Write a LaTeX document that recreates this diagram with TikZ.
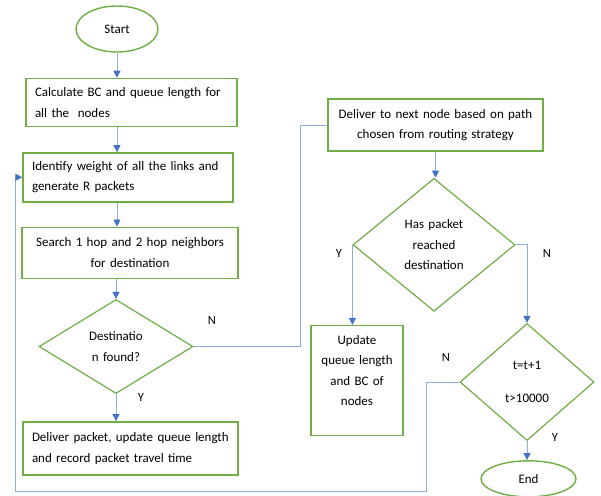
\documentclass[tikz,border=0pt]{standalone}
\usepackage{fontspec}
\setmainfont{Carlito}
\usetikzlibrary{shapes.geometric, arrows.meta, positioning}
\definecolor{boxgreen}{HTML}{70AD47}
\definecolor{lineblue}{HTML}{8FAADC}
\definecolor{tipblue}{HTML}{4472C4}
\tikzset{
    terminal/.style = {
        ellipse,
        draw=boxgreen,
        line width=1.4pt,
        inner sep=0pt
    },
    block/.style = {
        rectangle,
        draw=boxgreen,
        line width=1.4pt,
        inner sep=0pt,
        inner xsep=9pt
    },
    decision/.style = {
        diamond,
        draw=boxgreen,
        line width=1.2pt,
        align=center,
        inner sep=0pt
    },
    flow/.style = {
        draw=lineblue,
        line width=0.9pt
    },
    arr/.style = {
        flow,
        -{Triangle[length=7pt, width=7pt, color=tipblue]}
    },
    lbl/.style = {
        font=\fontsize{12.5}{14}\selectfont
    }
}

\begin{document}
\begin{tikzpicture}[
    x=1pt, y=-1pt,
    every node/.style={font=\fontsize{13}{20.5}\selectfont}
]
\useasboundingbox (0,0) rectangle (601,495);

% Left column
\node [terminal, minimum width=82pt, minimum height=46pt] (start) at (117,29) {Start};
\node [block, below=25pt of start, xshift=14.5pt, minimum width=211pt, minimum height=48pt,
       text width=193pt, align=left] (calc) {Calculate BC and queue length for\\ all the\ \ nodes};
\node [block, below=25pt of calc, xshift=-3.5pt, minimum width=210pt, minimum height=49pt,
       text width=192pt, align=left] (ident) {Identify weight of all the links and\\ generate R packets};
\node [block, below=24pt of ident, xshift=2pt, minimum width=216pt, minimum height=51pt,
       text width=198pt, align=center] (search) {Search 1 hop and 2 hop neighbors\\ for destination};
\node [decision, below=20pt of search, xshift=-14pt, minimum width=154pt, minimum height=94pt,
       text width=60pt] (found) {Destinatio\\ n found?};
\node [block, below=27pt of found, xshift=14.5pt, minimum width=215pt, minimum height=53pt,
       text width=197pt, align=left] (deliver) {Deliver packet, update queue length\\ and record packet travel time};

% Right column
\node [block, minimum width=215pt, minimum height=52pt, text width=197pt, align=center]
      (next) at (435.5,125) {Deliver to next node based on path\\ chosen from routing strategy};
\node [decision, below=26pt of next, xshift=-1.5pt, minimum width=162pt, minimum height=133pt,
       text width=70pt] (reached) {Has packet\\ reached\\ destination};
\node [block, below=13pt of reached, xshift=-77pt, minimum width=92pt, minimum height=110pt,
       text width=80pt, inner xsep=6pt, align=center] (update) {Update\\ queue length\\ and BC of\\ nodes\\ \mbox{}};
\node [decision, below=11pt of reached, xshift=93pt, minimum width=134pt, minimum height=117pt,
       text width=60pt] (tick) {t=t+1\\[13pt] t>10000};
\node [terminal, below=19pt of tick, xshift=1.5pt, minimum width=95pt, minimum height=36pt] (finish) {End};

% Branch labels
\node [lbl] (foundN) at (212,320) {N};
\node [lbl] (foundY) at (141,397) {Y};
\node [lbl] (reachedY) at (339,253) {Y};
\node [lbl] (reachedN) at (547,253) {N};
\node [lbl] (tickN) at (446,357) {N};
\node [lbl] (tickY) at (555,437) {Y};

% Connectors
\draw [arr] (start.south) -- (start.south |- calc.north);
\draw [arr] (calc.south -| start) -- (ident.north -| start);
\draw [arr] (ident.south -| start) -- (search.north -| start);
\draw [arr] (search.south -| found) -- (found.north);
\draw [arr] (found.south) -- (found.south |- deliver.north);
\draw [flow] (found.east) -- ++(107,0) |- (next.west);
\draw [arr] (next.south) -- (next.south |- reached.north);
\draw [arr] (reached.west) -- (reached.west |- update.north);
\draw [arr] (reached.east) -| (tick.north);
\draw [arr] (tick.south) -- (tick.south |- finish.north);
\coordinate (loop) at (15,491);
\draw [arr] (tick.west) -- ++(-33,0) |- (loop) |- (ident.west);

\end{tikzpicture}
\end{document}
